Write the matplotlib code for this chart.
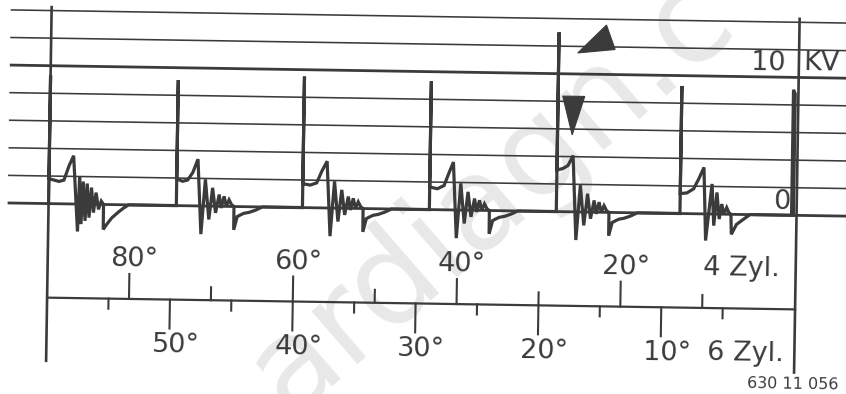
import matplotlib
matplotlib.use("Agg")
import matplotlib.pyplot as plt
from matplotlib.transforms import Affine2D
from matplotlib.patches import Polygon

# ---- screen grid (kV) ----
grid_kv = [0, 2, 4, 6, 8, 10, 12, 14]
heavy_kv = [0, 10]

# ---- dwell-angle scales ----
deg4_major = [80, 60, 40, 20]
deg4_minor = [70, 50, 30, 10]
deg6_major = [50, 40, 30, 20, 10]
deg6_minor = [55, 45, 35, 25, 15, 5]

# ---- secondary ignition trace (x on the 4-cyl degree scale, y in kV) ----
fire_deg = [90.0, 74.4, 59.0, 43.5, 28.0, 12.9]
fire_kv = [9.3, 9.1, 9.5, 9.3, 13.0, 9.25]
next_fire_deg = -0.73
next_fire_kv = 9.1

# spark line after each firing: degrees after firing, kV
spark_off = [
    [0, 1.22, 1.83, 2.44, 2.97],
    [0, 0.73, 1.34, 1.95, 2.56],
    [0, 0.90, 1.70, 2.30, 2.93],
    [0, 0.94, 1.75, 2.36, 2.85],
    [0, 0.73, 1.34, 1.95],
    [0, 0.81, 1.63, 2.24, 2.85],
]
spark_kv = [
    [1.81, 1.62, 1.72, 2.78, 3.50],
    [1.94, 1.77, 1.87, 2.42, 3.39],
    [1.74, 1.64, 1.81, 2.66, 3.39],
    [1.64, 1.52, 1.76, 2.73, 3.47],
    [3.02, 3.13, 3.35, 4.08],
    [1.45, 1.50, 1.81, 2.54, 3.37],
]

# coil ringing after the spark: degrees after spark end, kV
ring_dense_off = [0.61, 0.77, 1.02, 1.22, 1.51, 1.71, 1.99, 2.24, 2.52, 2.81,
                  3.13, 3.46, 3.74, 3.75, 4.15, 4.76, 5.58, 6.19, 6.80]
ring_dense_kv = [-1.99, 1.98, -1.45, 1.64, -1.21, 1.50, -0.97, 1.21, -0.60, 0.85,
                 -0.36, 0.24, 0.0, -1.81, -1.45, -0.97, -0.53, -0.24, 0.0]
ring_long_off = [0.49, 0.94, 1.43, 1.84, 2.24, 2.65, 2.93, 3.26, 3.54, 3.87,
                 4.19, 4.48, 4.49, 4.89, 5.29, 5.71, 6.32, 7.12, 7.94]
ring_long_kv = [-2.04, 1.94, -0.97, 1.33, -0.48, 0.85, -0.12, 0.73, 0.0, 0.48,
                0.12, 0.0, -1.69, -0.73, -0.60, -0.48, -0.41, -0.24, 0.0]
ring_short_off = [0.33, 1.02, 1.30, 1.63, 1.95, 2.24, 2.52, 2.85, 3.13, 3.38,
                  3.46, 4.07, 4.88, 5.70]
ring_short_kv = [-1.93, 2.18, -0.84, 1.57, -0.36, 0.73, 0.0, 0.48, 0.12, 0.0,
                 -1.45, -0.73, -0.36, 0.0]
ring_kind = ["dense", "long", "long", "long", "long", "short"]

# ---- figure ----
W, H = 846, 394
fig = plt.figure(figsize=(W / 100, H / 100), dpi=100)
ax = fig.add_axes([0, 0, 1, 1])
ax.set_xlim(95.95, -7.35)
ax.set_ylim(-13.38, 15.19)
ax.axis("off")

# the printed sheet sits slightly askew
tr = ax.transData + Affine2D().rotate_deg_around(W / 2, H / 2, -0.9)
ink = "#3b3b3b"
TILT = -0.9

PX_X = 8.19    # pixels per degree
PX_Y = 13.79   # pixels per kV

# watermark
ax.text(36.1, 1.05, "ardiagn.c", transform=ax.transData, fontsize=92,
        rotation=41, color="#e8e8e8", ha="center", va="center",
        family="DejaVu Sans", zorder=0)

# grid
for kv in grid_kv:
    lw = 2.0 if kv in heavy_kv else 1.15
    ax.plot([95.0, -9.0], [kv, kv], color=ink, lw=lw, transform=tr,
            solid_capstyle="butt", zorder=2)

# frame verticals
scale_y = -6.82
left_x, right_x = 90.0, -1.34
for xv in (left_x, right_x):
    ax.plot([xv, xv], [14.25, -11.4], color=ink, lw=1.9, transform=tr, zorder=3)

# dwell-angle scale
ax.plot([left_x, right_x], [scale_y, scale_y], color=ink, lw=1.6, transform=tr, zorder=3)
for d in deg4_major:
    ax.plot([d, d], [scale_y, scale_y + 1.81], color=ink, lw=1.5, transform=tr)
    ax.text(d - 0.6, -3.95, f"{d}°", transform=tr, rotation=TILT, fontsize=19.5,
            color=ink, ha="center", va="center")
for d in deg4_minor:
    ax.plot([d, d], [scale_y, scale_y + 0.94], color=ink, lw=1.5, transform=tr)
for d in deg6_major:
    xd = d * 1.5
    ax.plot([xd, xd], [scale_y, scale_y - 2.1], color=ink, lw=1.5, transform=tr)
    ax.text(xd - 0.8, -10.15, f"{d}°", transform=tr, rotation=TILT, fontsize=19.5,
            color=ink, ha="center", va="center")
for d in deg6_minor:
    xd = d * 1.5
    ax.plot([xd, xd], [scale_y, scale_y - 0.73], color=ink, lw=1.5, transform=tr)

ax.text(10.0, -3.95, "4 Zyl.", transform=tr, rotation=TILT, fontsize=19.5,
        color=ink, ha="left", va="center")
ax.text(9.33, -10.15, "6 Zyl.", transform=tr, rotation=TILT, fontsize=19.5,
        color=ink, ha="left", va="center")
ax.text(0.23, 11.05, "10", transform=tr, rotation=TILT, fontsize=19.5,
        color=ink, ha="right", va="center")
ax.text(-1.86, 11.05, "KV", transform=tr, rotation=TILT, fontsize=19.5,
        color=ink, ha="left", va="center")
ax.text(0.46, 0.95, "0", transform=tr, rotation=TILT, fontsize=19.5,
        color=ink, ha="center", va="center")
ax.text(-1.25, -12.23, "630 11 056", transform=tr, rotation=TILT, fontsize=11.5,
        color=ink, ha="center", va="center")

# trace
rings = {
    "dense": (ring_dense_off, ring_dense_kv),
    "long": (ring_long_off, ring_long_kv),
    "short": (ring_short_off, ring_short_kv),
}
tx, ty = [], []
for i, x0 in enumerate(fire_deg):
    tx += [x0, x0, x0]
    ty += [0.0, fire_kv[i], spark_kv[i][0]]
    for o, v in zip(spark_off[i], spark_kv[i]):
        tx.append(x0 - o)
        ty.append(v)
    xe = x0 - spark_off[i][-1]
    r_off, r_kv = rings[ring_kind[i]]
    for o, v in zip(r_off, r_kv):
        tx.append(xe - o)
        ty.append(v)
tx += [next_fire_deg, next_fire_deg, next_fire_deg - 0.22, next_fire_deg - 0.22]
ty += [0.0, next_fire_kv, next_fire_kv - 0.3, 0.0]
ax.plot(tx, ty, color=ink, lw=2.3, transform=tr, solid_joinstyle="miter", zorder=4)

# marker triangles pointing at firing peak and spark end of cylinder 5
def tri(anchor_x, anchor_y, offsets_px):
    pts = [(anchor_x - dx / PX_X, anchor_y - dy / PX_Y) for dx, dy in offsets_px]
    ax.add_patch(Polygon(pts, closed=True, facecolor=ink, edgecolor=ink,
                         lw=0.8, transform=tr, zorder=5))

tri(fire_deg[4], fire_kv[4], [(19, 20.3), (47.3, -8.0), (56.3, 16.3)])
tri(fire_deg[4] - spark_off[4][-1], spark_kv[4][-1],
    [(-1.3, -20.6), (-11.3, -59.3), (10.7, -59.3)])

fig.savefig("out.png", dpi=100)
